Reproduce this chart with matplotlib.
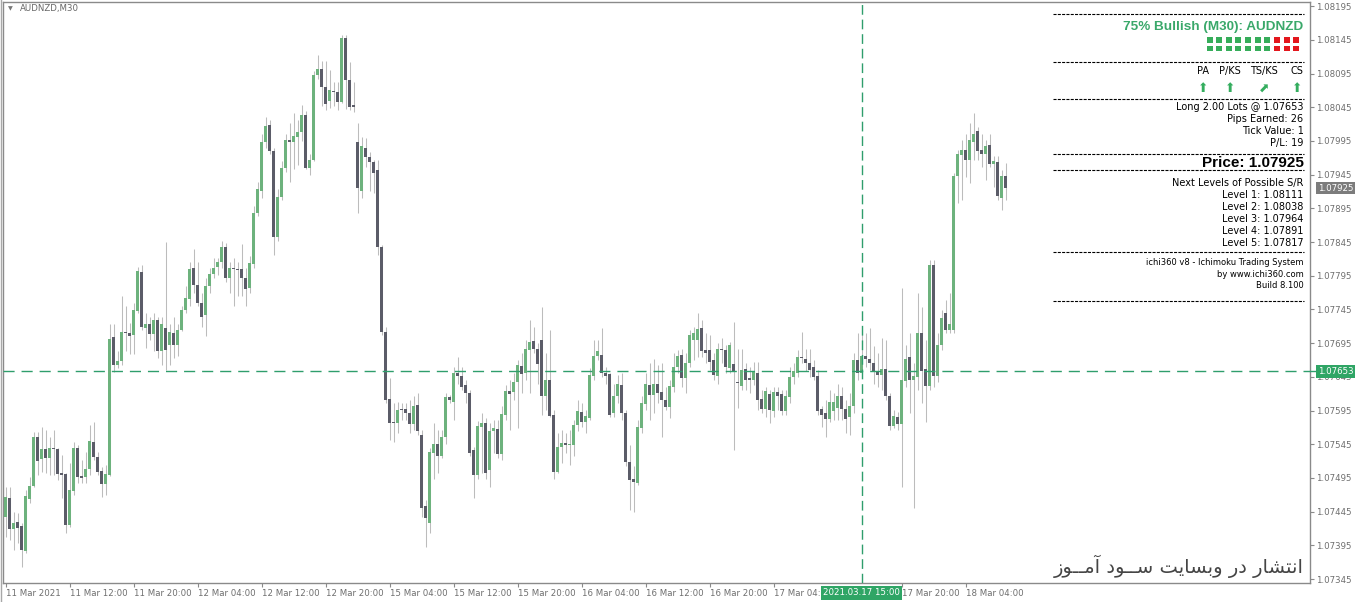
import numpy as np
import matplotlib
matplotlib.use("Agg")
import matplotlib.pyplot as plt
import matplotlib.transforms as mtransforms
from matplotlib.patches import Rectangle

plt.rcParams['font.family'] = ['DejaVu Sans']
plt.rcParams['lines.scale_dashes'] = False

# AUDNZD M30 candles, prices in units of 0.00001
opens = [
    107437, 107465, 107419, 107430, 107423, 107387, 107464, 107483, 107556, 107523,
    107538, 107525, 107539, 107538, 107502, 107501, 107425, 107476, 107539, 107498,
    107496, 107508, 107548, 107526, 107506, 107486, 107500, 107704, 107662, 107669,
    107711, 107710, 107707, 107743, 107801, 107718, 107724, 107709, 107730, 107683,
    107718, 107692, 107710, 107692, 107714, 107744, 107761, 107806, 107781, 107755,
    107736, 107780, 107797, 107808, 107815, 107837, 107792, 107806, 107805, 107805,
    107792, 107777, 107812, 107888, 107921, 107994, 108019, 107980, 107853, 107912,
    107955, 107997, 107994, 108001, 108008, 108034, 107955, 107967, 108093, 108101,
    108075, 108054, 108068, 108068, 108053, 108148, 108085, 108047, 107994, 107921,
    107984, 107971, 107964, 107952, 107838, 107712, 107612, 107578, 107576, 107597,
    107597, 107591, 107575, 107603, 107559, 107453, 107428, 107532, 107545, 107527,
    107556, 107615, 107608, 107650, 107646, 107633, 107621, 107537, 107499, 107571,
    107576, 107507, 107564, 107567, 107530, 107588, 107624, 107622, 107637, 107661,
    107650, 107685, 107698, 107686, 107700, 107616, 107640, 107589, 107504, 107541,
    107547, 107544, 107544, 107573, 107593, 107578, 107584, 107646, 107676, 107678,
    107650, 107649, 107591, 107617, 107633, 107591, 107519, 107494, 107488, 107569,
    107605, 107633, 107618, 107634, 107622, 107611, 107600, 107630, 107660, 107677,
    107643, 107665, 107699, 107699, 107717, 107685, 107685, 107670, 107646, 107686,
    107685, 107658, 107664, 107637, 107631, 107656, 107642, 107641, 107651, 107612,
    107597, 107620, 107595, 107622, 107620, 107595, 107615, 107644, 107651, 107674,
    107672, 107665, 107660, 107646, 107597, 107591, 107582, 107595, 107598, 107616,
    107597, 107585, 107601, 107670, 107651, 107676, 107671, 107665, 107654, 107647,
    107656, 107616, 107572, 107586, 107575, 107639, 107675, 107640, 107645, 107710,
    107656, 107631, 107811, 107646, 107692, 107739, 107715, 107714, 107943, 107974,
    107981, 107967, 107994, 108009, 107981, 107976, 107989, 107961, 107964, 107911,
    107943,
]
highs = [
    107481, 107481, 107445, 107443, 107428, 107477, 107497, 107563, 107563, 107570,
    107566, 107556, 107566, 107539, 107529, 107502, 107517, 107548, 107544, 107521,
    107533, 107573, 107578, 107533, 107511, 107514, 107724, 107724, 107683, 107765,
    107750, 107725, 107754, 107808, 107811, 107740, 107734, 107740, 107734, 107734,
    107845, 107724, 107734, 107724, 107750, 107780, 107816, 107834, 107816, 107770,
    107791, 107806, 107821, 107821, 107847, 107844, 107816, 107821, 107816, 107842,
    107806, 107824, 107899, 107934, 108006, 108031, 108026, 107985, 107924, 107965,
    108006, 108021, 108036, 108026, 108049, 108039, 107975, 108098, 108123, 108113,
    108113, 108100, 108082, 108082, 108152, 108152, 108112, 108083, 108021, 108001,
    107999, 107979, 107967, 107967, 107841, 107719, 107643, 107606, 107608, 107606,
    107606, 107611, 107616, 107621, 107566, 107462, 107539, 107576, 107566, 107566,
    107621, 107618, 107660, 107675, 107660, 107640, 107625, 107541, 107579, 107591,
    107584, 107576, 107581, 107581, 107601, 107633, 107640, 107650, 107670, 107680,
    107700, 107729, 107719, 107695, 107749, 107680, 107714, 107596, 107561, 107566,
    107561, 107566, 107581, 107611, 107606, 107596, 107658, 107700, 107700, 107717,
    107660, 107650, 107635, 107648, 107650, 107596, 107544, 107512, 107581, 107616,
    107650, 107665, 107672, 107662, 107665, 107630, 107640, 107680, 107685, 107687,
    107680, 107714, 107719, 107739, 107729, 107710, 107707, 107680, 107695, 107702,
    107692, 107697, 107727, 107687, 107687, 107665, 107660, 107667, 107667, 107625,
    107630, 107625, 107630, 107630, 107625, 107625, 107660, 107665, 107685, 107712,
    107687, 107687, 107670, 107655, 107601, 107611, 107625, 107621, 107635, 107630,
    107611, 107621, 107680, 107710, 107714, 107710, 107717, 107690, 107680, 107702,
    107700, 107621, 107596, 107593, 107777, 107692, 107710, 107665, 107769, 107749,
    107700, 107818, 107818, 107710, 107744, 107759, 107769, 107947, 107981, 107996,
    108006, 108021, 108036, 108016, 108006, 107996, 108006, 107972, 107972, 107952,
    107962,
]
lows = [
    107407, 107403, 107388, 107398, 107363, 107384, 107458, 107481, 107499, 107504,
    107502, 107499, 107499, 107492, 107465, 107413, 107422, 107470, 107487, 107487,
    107487, 107499, 107521, 107499, 107467, 107470, 107498, 107652, 107658, 107662,
    107683, 107679, 107679, 107740, 107714, 107688, 107699, 107683, 107673, 107662,
    107655, 107662, 107673, 107676, 107713, 107740, 107750, 107770, 107750, 107719,
    107706, 107770, 107791, 107796, 107806, 107786, 107770, 107750, 107765, 107765,
    107750, 107770, 107806, 107883, 107911, 107985, 107975, 107826, 107847, 107908,
    107949, 107934, 107954, 107960, 107995, 107954, 107944, 107965, 108087, 108047,
    108041, 108044, 108047, 108041, 108051, 108043, 108041, 108038, 107888, 107910,
    107957, 107920, 107917, 107826, 107707, 107606, 107551, 107549, 107561, 107581,
    107581, 107561, 107566, 107559, 107437, 107393, 107413, 107494, 107502, 107524,
    107546, 107606, 107581, 107635, 107625, 107606, 107527, 107465, 107494, 107502,
    107494, 107482, 107532, 107524, 107521, 107581, 107566, 107611, 107569, 107621,
    107640, 107621, 107680, 107635, 107588, 107596, 107586, 107494, 107502, 107517,
    107532, 107514, 107527, 107564, 107571, 107561, 107581, 107640, 107670, 107645,
    107635, 107586, 107586, 107606, 107581, 107512, 107447, 107445, 107485, 107561,
    107596, 107581, 107591, 107606, 107556, 107596, 107584, 107623, 107650, 107630,
    107621, 107660, 107670, 107675, 107675, 107665, 107655, 107640, 107635, 107665,
    107650, 107650, 107537, 107598, 107625, 107625, 107621, 107633, 107596, 107591,
    107586, 107576, 107586, 107596, 107588, 107588, 107606, 107635, 107645, 107665,
    107653, 107645, 107640, 107588, 107571, 107556, 107578, 107581, 107581, 107581,
    107561, 107559, 107591, 107640, 107650, 107660, 107655, 107635, 107630, 107625,
    107611, 107566, 107569, 107566, 107482, 107630, 107591, 107450, 107625, 107606,
    107578, 107625, 107630, 107638, 107685, 107710, 107710, 107710, 107903, 107907,
    107942, 107932, 107967, 107967, 107957, 107937, 107957, 107927, 107907, 107892,
    107907,
]
closes = [
    107467, 107419, 107428, 107421, 107388, 107468, 107483, 107556, 107520, 107538,
    107524, 107539, 107538, 107501, 107499, 107425, 107477, 107539, 107496, 107495,
    107508, 107550, 107526, 107504, 107486, 107501, 107701, 107662, 107669, 107711,
    107710, 107706, 107744, 107802, 107719, 107724, 107709, 107730, 107683, 107724,
    107685, 107712, 107692, 107715, 107744, 107762, 107805, 107781, 107755, 107734,
    107780, 107798, 107807, 107815, 107837, 107791, 107806, 107805, 107804, 107791,
    107775, 107814, 107888, 107923, 107993, 108017, 107980, 107853, 107912, 107955,
    107997, 107993, 108002, 108008, 108034, 107955, 107967, 108093, 108101, 108075,
    108050, 108070, 108067, 108053, 108148, 108085, 108046, 108046, 107925, 107987,
    107971, 107964, 107948, 107837, 107711, 107610, 107577, 107576, 107596, 107596,
    107591, 107575, 107602, 107564, 107451, 107435, 107534, 107545, 107527, 107556,
    107615, 107611, 107650, 107646, 107630, 107621, 107532, 107499, 107572, 107577,
    107503, 107564, 107569, 107530, 107590, 107624, 107620, 107638, 107663, 107649,
    107686, 107697, 107686, 107664, 107616, 107641, 107587, 107504, 107541, 107547,
    107544, 107546, 107573, 107594, 107578, 107587, 107648, 107676, 107684, 107650,
    107646, 107588, 107617, 107635, 107591, 107518, 107492, 107489, 107570, 107606,
    107634, 107618, 107634, 107621, 107611, 107600, 107631, 107660, 107676, 107643,
    107666, 107707, 107710, 107716, 107684, 107681, 107667, 107648, 107686, 107685,
    107660, 107692, 107654, 107636, 107655, 107641, 107641, 107653, 107611, 107597,
    107624, 107596, 107622, 107617, 107595, 107616, 107645, 107653, 107674, 107673,
    107665, 107655, 107644, 107595, 107588, 107582, 107608, 107608, 107616, 107597,
    107583, 107601, 107670, 107651, 107676, 107671, 107665, 107654, 107647, 107656,
    107616, 107572, 107587, 107575, 107640, 107671, 107640, 107646, 107710, 107654,
    107631, 107811, 107646, 107692, 107733, 107715, 107723, 107943, 107976, 107981,
    107967, 107996, 108006, 107980, 107976, 107987, 107961, 107965, 107913, 107943,
    107925,
]

time_labels = ['11 Mar 2021', '11 Mar 12:00', '11 Mar 20:00', '12 Mar 04:00',
               '12 Mar 12:00', '12 Mar 20:00', '15 Mar 04:00', '15 Mar 12:00',
               '15 Mar 20:00', '16 Mar 04:00', '16 Mar 12:00', '16 Mar 20:00',
               '17 Mar 04:00', '17 Mar 20:00', '18 Mar 04:00']
time_label_bars = [0, 16, 32, 48, 64, 80, 96, 112, 128, 144, 160, 176, 192, 224, 240]

entry_price = 1.07653
last_price = 1.07925
marker_bar = 214
marker_label = '2021.03.17 15:00'

o = np.array(opens) / 1e5
h = np.array(highs) / 1e5
l = np.array(lows) / 1e5
c = np.array(closes) / 1e5
idx = np.arange(len(c))

bull = '#6db27d'
bear = '#5b5c68'
wick = '#bcbcbc'
line_green = '#2f9e6c'
txt_green = '#3aa86a'

W, H = 1360, 602
fig = plt.figure(figsize=(W / 100, H / 100), dpi=100)
ax = fig.add_axes([3 / W, (H - 583) / H, (1310 - 3) / W, (583 - 2) / H])
ax.set_xlim(-0.625, 326.125)
ax.set_ylim(1.073391, 1.082011)

up = c >= o
ax.vlines(idx, l, h, color=wick, lw=0.75, zorder=2)
body_h = np.maximum(np.abs(c - o), 1.6e-5)
ax.bar(idx, body_h, bottom=np.minimum(o, c), width=0.72,
       color=np.where(up, bull, bear), linewidth=0, zorder=3)

ax.axhline(entry_price, color=line_green, lw=1, dashes=(8, 5), zorder=4)
ax.axvline(marker_bar, color=line_green, lw=1, dashes=(7, 3.5), zorder=4)

for s in ax.spines.values():
    s.set_color('#8a8a8a')
    s.set_linewidth(1)

yt = np.arange(107345, 108196, 50) / 1e5
ax.yaxis.tick_right()
ax.set_yticks(yt, ['%.5f' % v for v in yt])
ax.set_xticks(time_label_bars, time_labels)
for t in ax.get_xticklabels():
    t.set_ha('left')
ax.tick_params(axis='y', direction='out', length=3, width=0.8, color='#8a8a8a',
               labelsize=6.2, labelcolor='#6e6e6e', pad=1.5)
ax.tick_params(axis='x', direction='out', length=3, width=0.8, color='#8a8a8a',
               labelsize=6.2, labelcolor='#6e6e6e', pad=1.5)

yb = mtransforms.blended_transform_factory(ax.transAxes, ax.transData)
xb = mtransforms.blended_transform_factory(ax.transData, ax.transAxes)
ax.text(1.0061, last_price, '%.5f' % last_price, transform=yb, fontsize=6.2,
        color='white', va='center', ha='left', clip_on=False, zorder=6,
        bbox=dict(boxstyle='square,pad=0.22', fc='#7c7c7c', ec='none'))
ax.text(1.0061, entry_price, '%.5f' % entry_price, transform=yb, fontsize=6.2,
        color='white', va='center', ha='left', clip_on=False, zorder=6,
        bbox=dict(boxstyle='square,pad=0.22', fc='#2fa565', ec='none'))
ax.plot([1.0, 1.006], [entry_price, entry_price], transform=yb, color=line_green,
        lw=1, clip_on=False, zorder=5)
ax.text(marker_bar, -0.017, marker_label, transform=xb, fontsize=6.2,
        color='white', va='center', ha='center', clip_on=False, zorder=6,
        bbox=dict(boxstyle='square,pad=0.25', fc='#2fa565', ec='none'))

# overlay in pixel coordinates for the info panel
ov = fig.add_axes([0, 0, 1, 1], zorder=5)
ov.set_xlim(0, W)
ov.set_ylim(H, 0)
ov.axis('off')
ov.patch.set_alpha(0)

ov.plot([0.5, 0.5], [0, H], color='#a8a8a8', lw=1)
ov.text(8, 8.5, '▼', fontsize=4.5, color='#777777', ha='left', va='center')
ov.text(20, 8.5, 'AUDNZD,M30', fontsize=6.2, color='#666666', ha='left', va='center')

RX = 1303.5
for yy in [14.3, 62.3, 99, 154.3, 170, 252.3, 300.7]:
    ov.plot([1052.7, RX], [yy, yy], color='black', lw=0.8, dashes=(2.2, 0.9))

ov.text(RX, 26.7, '75% Bullish (M30): AUDNZD', family='Liberation Sans',
        fontweight='bold', fontsize=9.7, color=txt_green, ha='right', va='center')

votes = ['g'] * 7 + ['r'] * 3
for k, v in enumerate(votes):
    for y0 in (37.3, 45.7):
        ov.add_patch(Rectangle((1206.5 + k * 9.65, y0), 6, 5.6, lw=0,
                               color='#36ad5a' if v == 'g' else '#e3171d'))

signals = [('PA', 1203.3, '⬆'), ('P/KS', 1230, '⬆'), ('TS/KS', 1264, '⬈'), ('CS', 1297, '⬆')]
for name, xc, arr in signals:
    ov.text(xc, 71, name, fontsize=7, ha='center', va='center', color='black')
    ov.text(xc, 88, arr, fontsize=9, ha='center', va='center', color='#34ad5e')

lines_a = [('Long 2.00 Lots @ 1.07653', 107.3), ('Pips Earned: 26', 118.9),
           ('Tick Value: 1', 130.8), ('P/L: 19', 142.7)]
for s, yy in lines_a:
    ov.text(RX, yy, s, fontsize=7, ha='right', va='center', color='black')

ov.text(RX, 163.3, 'Price: 1.07925', family='Liberation Sans', fontweight='bold',
        fontsize=11, ha='right', va='center', color='black')

lines_b = [('Next Levels of Possible S/R', 183.3), ('Level 1: 1.08111', 195.2),
           ('Level 2: 1.08038', 207.2), ('Level 3: 1.07964', 219.1),
           ('Level 4: 1.07891', 231), ('Level 5: 1.07817', 242.8)]
for s, yy in lines_b:
    ov.text(RX, yy, s, fontsize=7, ha='right', va='center', color='black')

lines_c = [('ichi360 v8 - Ichimoku Trading System', 262.7),
           ('by www.ichi360.com', 274.2), ('Build 8.100', 285.9)]
for s, yy in lines_c:
    ov.text(RX, yy, s, fontsize=6, ha='right', va='center', color='black')

# "انتشار در وبسایت ســود آمــوز" written in shaped (presentation) forms, visual order
words = ['\uFEAF\uFEEE\u0640\u0640\uFEE3\uFE81',
         '\uFEA9\uFEEE\u0640\u0640\uFEB3',
         '\uFE96\uFEF3\uFE8E\uFEB4\uFE91\uFEED',
         '\uFEAD\uFEA9',
         '\uFEAD\uFE8E\uFEB8\uFE98\uFEE7\uFE8D']
ov.text(RX, 566, ' '.join(words), fontsize=14, ha='right', va='center',
        color='#454545')

fig.savefig('out.png', dpi=100)
